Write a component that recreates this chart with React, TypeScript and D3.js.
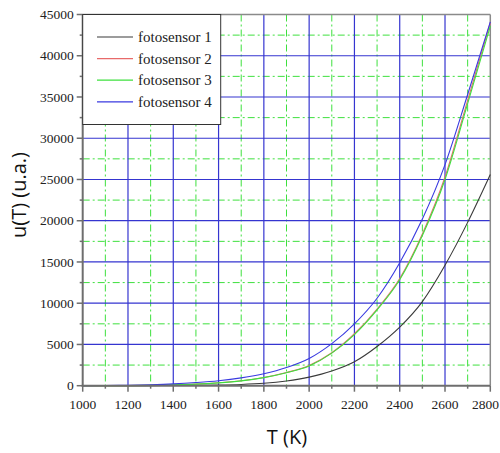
import React from "react";
import * as d3 from "d3";

const temperatures = [1000, 1100, 1200, 1300, 1400, 1500, 1600, 1700, 1800, 1900, 2000, 2100, 2200, 2300, 2400, 2500, 2600, 2700, 2800];
const sensor1 = [0, 2, 5, 12, 25, 45, 80, 150, 290, 570, 1040, 1780, 2900, 4750, 7100, 10200, 14600, 19800, 25600];
const sensor2 = [0, 4, 15, 45, 100, 190, 350, 600, 1000, 1600, 2450, 4000, 6300, 9300, 13000, 18400, 25300, 34600, 44000];
const sensor3 = [0, 4, 14, 42, 95, 185, 340, 580, 980, 1570, 2400, 3950, 6200, 9200, 12850, 18200, 25000, 34200, 43600];
const sensor4 = [0, 20, 60, 120, 220, 380, 600, 950, 1450, 2200, 3300, 5100, 7500, 10600, 14900, 20200, 26800, 35300, 44100];

const seriesNames = ["fotosensor 1", "fotosensor 2", "fotosensor 3", "fotosensor 4"];
const seriesColors = ["#3a3a3a", "#e86a6a", "#3ee03e", "#3a3ae0"];
const seriesValues = [sensor1, sensor2, sensor3, sensor4];

const xTicks = [1000, 1200, 1400, 1600, 1800, 2000, 2200, 2400, 2600, 2800];
const xMinor = [1100, 1300, 1500, 1700, 1900, 2100, 2300, 2500, 2700];
const yTicks = [0, 5000, 10000, 15000, 20000, 25000, 30000, 35000, 40000, 45000];
const yMinor = [2500, 7500, 12500, 17500, 22500, 27500, 32500, 37500, 42500];

export default function App() {
  const W = 500, H = 453;
  const left = 82.7, right = 490.3, top = 14.5, bottom = 385.7;
  const x = d3.scaleLinear().domain([1000, 2800]).range([left, right]);
  const y = d3.scaleLinear().domain([0, 45000]).range([bottom, top]);
  const serifStyle = { fontFamily: "Liberation Serif, DejaVu Serif, serif" };
  const sansStyle = { fontFamily: "Open Sans, Noto Sans, sans-serif" };

  const line = (vals: number[]) =>
    d3.line<number>()
      .x((_, i) => x(temperatures[i]))
      .y((v) => y(v))
      .curve(d3.curveMonotoneX)(vals) || "";

  return (
    <svg width={W} height={H} style={{ position: "absolute", left: 0, top: 0, background: "#fff" }}>
      {xMinor.map((t) => (
        <line key={"xm" + t} x1={x(t)} x2={x(t)} y1={top} y2={bottom}
          stroke="#3ee03e" strokeWidth={1} strokeDasharray="7,3,2,3" />
      ))}
      {yMinor.map((t) => (
        <line key={"ym" + t} x1={left} x2={right} y1={y(t)} y2={y(t)}
          stroke="#3ee03e" strokeWidth={1} strokeDasharray="7,3,2,3" />
      ))}
      {xTicks.slice(1, -1).map((t) => (
        <line key={"xg" + t} x1={x(t)} x2={x(t)} y1={top} y2={bottom}
          stroke="#3535d0" strokeWidth={1.2} />
      ))}
      {yTicks.slice(1, -1).map((t) => (
        <line key={"yg" + t} x1={left} x2={right} y1={y(t)} y2={y(t)}
          stroke="#3535d0" strokeWidth={1.2} />
      ))}
      <line x1={left} x2={right} y1={top} y2={top} stroke="#8a8a8a" strokeWidth={1.5} />
      <line x1={right} x2={right} y1={top} y2={bottom} stroke="#8a8a8a" strokeWidth={1.5} />

      {seriesValues.map((vals, i) => (
        <path key={"s" + i} d={line(vals)} fill="none" stroke={seriesColors[i]} strokeWidth={1.1} />
      ))}

      <line x1={left} x2={left} y1={top} y2={bottom + 1} stroke="#6e6e6e" strokeWidth={2} />
      <line x1={left - 1} x2={right} y1={bottom} y2={bottom} stroke="#6e6e6e" strokeWidth={2} />
      {yTicks.map((t) => (
        <g key={"yt" + t}>
          <line x1={left - 6} x2={left} y1={y(t)} y2={y(t)} stroke="#6e6e6e" strokeWidth={1.5} />
          <text x={left - 9} y={y(t)} dy="0.35em" textAnchor="end" style={serifStyle} fontSize={13.5} fill="#222">{t}</text>
        </g>
      ))}
      {yMinor.map((t) => (
        <line key={"ymt" + t} x1={left - 3} x2={left} y1={y(t)} y2={y(t)} stroke="#6e6e6e" strokeWidth={1.5} />
      ))}
      {xTicks.map((t) => (
        <g key={"xt" + t}>
          <line x1={x(t)} x2={x(t)} y1={bottom} y2={bottom + 6} stroke="#6e6e6e" strokeWidth={1.5} />
          <text x={t === 2800 ? W - 1 : x(t)} y={bottom + 23} textAnchor={t === 2800 ? "end" : "middle"} style={serifStyle} fontSize={13.5} fill="#222">{t}</text>
        </g>
      ))}
      {xMinor.map((t) => (
        <line key={"xmt" + t} x1={x(t)} x2={x(t)} y1={bottom} y2={bottom + 3} stroke="#6e6e6e" strokeWidth={1.5} />
      ))}

      <rect x={left} y={top} width={138} height={110} fill="#fff" stroke="#333" strokeWidth={1} />
      {seriesNames.map((n, i) => {
        const yy = 37 + i * 21.6;
        return (
          <g key={"lg" + i}>
            <line x1={97} x2={133} y1={yy} y2={yy} stroke={seriesColors[i]} strokeWidth={1.2} />
            <text x={138} y={yy} dy="0.33em" style={serifStyle} fontSize={15} fill="#222">{n}</text>
          </g>
        );
      })}

      <text x={287} y={444} textAnchor="middle" style={sansStyle} fontSize={20} fill="#111">T (K)</text>
      <text transform="translate(26,195) rotate(-90)" textAnchor="middle" style={sansStyle} fontSize={20} fill="#111">u(T) (u.a.)</text>
    </svg>
  );
}
